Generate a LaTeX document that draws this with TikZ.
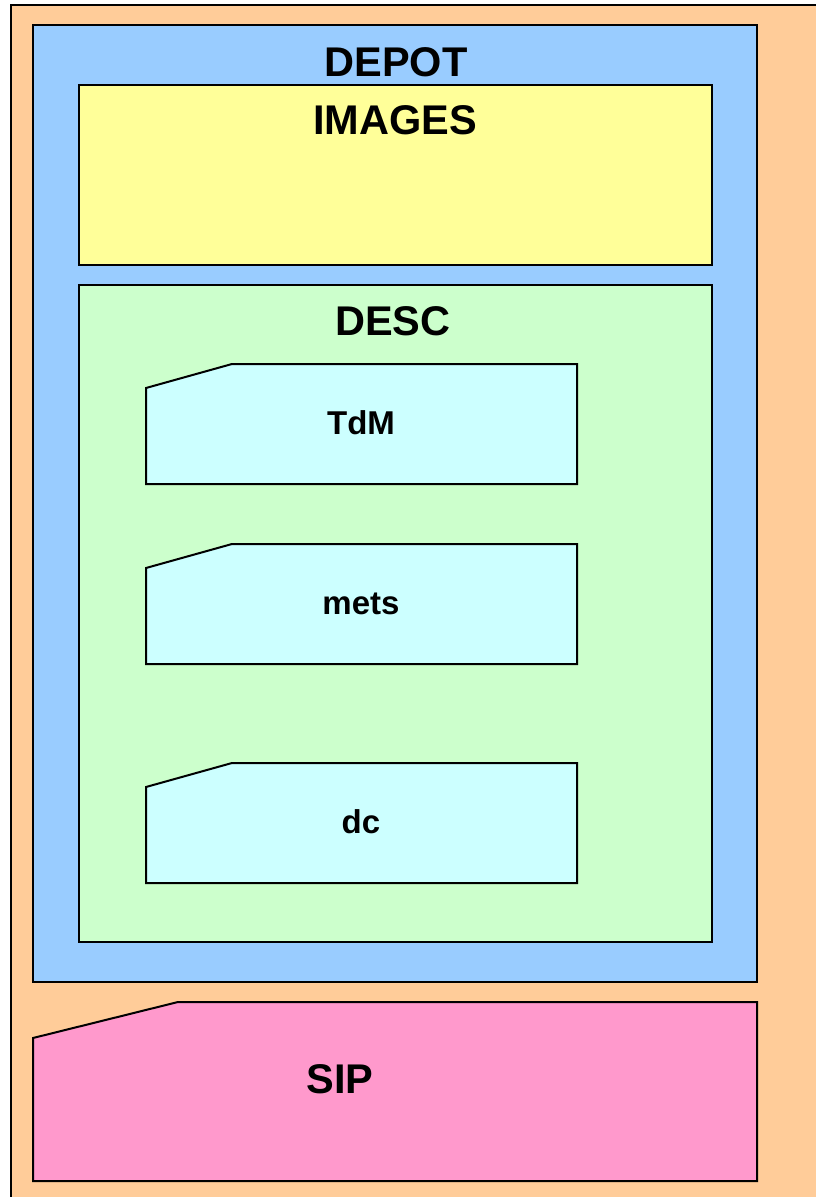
\documentclass[tikz,border=0pt]{standalone}
\usepackage{fontspec}
\setmainfont{Liberation Sans}
\definecolor{outerfill}{HTML}{FFCC99}
\definecolor{depotfill}{HTML}{99CCFF}
\definecolor{imagesfill}{HTML}{FFFF99}
\definecolor{descfill}{HTML}{CCFFCC}
\definecolor{cardfill}{HTML}{CCFFFF}
\definecolor{sipfill}{HTML}{FF99CC}
\tikzset{
  panel/.style={draw=black, line width=2pt, line join=miter},
  bigtitle/.style={anchor=base, inner sep=0pt, font=\fontsize{41.5}{48}\selectfont\bfseries},
  cardtitle/.style={anchor=base, inner sep=0pt, font=\fontsize{33}{40}\selectfont\bfseries},
}
\begin{document}
\begin{tikzpicture}[x=1pt, y=-1pt]
  \useasboundingbox (0,0) rectangle (816,1197);
  % outer frame
  \path[panel, fill=outerfill] (11,5) rectangle (830,1210);
  % DEPOT
  \path[panel, fill=depotfill] (33,25) rectangle (757,982);
  \node[bigtitle] (depot) at (396,76) {DEPOT};
  % IMAGES
  \path[panel, fill=imagesfill] (79,85) rectangle (712,265);
  \node[bigtitle] (images) at (395,134) {IMAGES};
  % DESC
  \path[panel, fill=descfill] (79,285) rectangle (712,942);
  \node[bigtitle] (desc) at (393,335) {DESC};
  % cards inside DESC
  \foreach \top/\name/\txt in {364/tdm/TdM, 544/mets/mets, 763/dc/dc}{
    \path[panel, fill=cardfill] (146,\top+24) -- (232,\top) -- (577,\top)
      -- (577,\top+120) -- (146,\top+120) -- cycle;
    \node[cardtitle] (\name) at (361,\top+70) {\txt};
  }
  % SIP
  \path[panel, fill=sipfill] (33,1038) -- (178,1002) -- (757,1002)
    -- (757,1181) -- (33,1181) -- cycle;
  \node[bigtitle] (sip) at (340,1093) {SIP};
\end{tikzpicture}
\end{document}
